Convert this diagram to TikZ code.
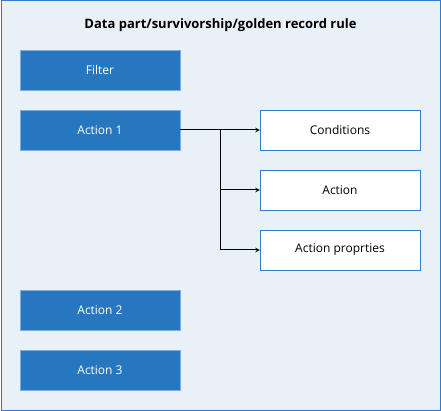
\documentclass[tikz,border=0pt]{standalone}
\usepackage{fontspec}
\setmainfont{Open Sans}
\usetikzlibrary{arrows}
\definecolor{frameblue}{RGB}{46,123,207}
\definecolor{panelbg}{RGB}{232,240,248}
\definecolor{stepfill}{RGB}{39,118,192}
\definecolor{stepline}{RGB}{126,174,224}
\tikzstyle{panel} = [rectangle, draw=frameblue, fill=panelbg, line width=1pt]
\tikzstyle{stepbox} = [rectangle, minimum width=160pt, minimum height=40pt, text centered, draw=stepline, fill=stepfill, text=white, font=\fontsize{12}{14}\selectfont]
\tikzstyle{part} = [rectangle, minimum width=160pt, minimum height=40pt, text centered, draw=frameblue, fill=white, font=\fontsize{12}{14}\selectfont]
\tikzstyle{arrow} = [->,>=stealth, line width=1pt]
\begin{document}
\begin{tikzpicture}[x=1pt, y=-1pt, node distance=60pt]
\useasboundingbox (0,0) rectangle (441,411);
\draw [panel] (1,1) rectangle (440,410);
\node (title) at (220.5,25) {\fontsize{13}{15}\selectfont\bfseries Data part/survivorship/golden record rule};

\node (filter) [stepbox] at (100,70) {Filter};
\node (act1) [stepbox, below of=filter] {Action 1};
\node (act2) [stepbox, below of=act1, yshift=-120pt] {Action 2};
\node (act3) [stepbox, below of=act2] {Action 3};

\node (cond) [part, right of=act1, node distance=240pt] {Conditions};
\node (act) [part, below of=cond] {Action};
\node (prop) [part, below of=act] {Action proprties};

\coordinate (split) at (220,130);

\draw [arrow] (act1) -- (cond);
\draw [arrow] (split) |- (act);
\draw [arrow] (split) |- (prop);

\end{tikzpicture}
\end{document}
